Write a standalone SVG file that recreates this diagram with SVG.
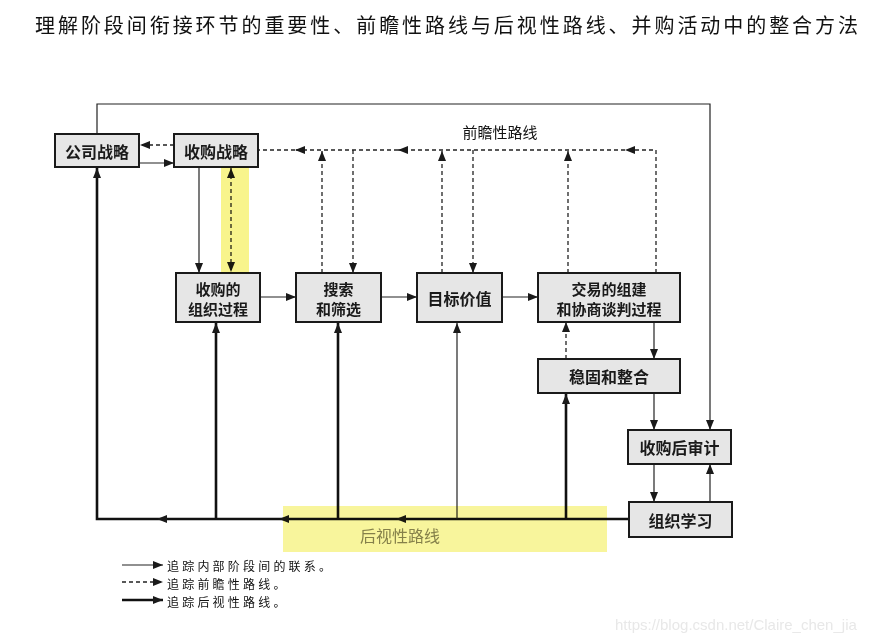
<svg xmlns="http://www.w3.org/2000/svg" width="882" height="641" viewBox="0 0 882 641">
<style>
text{font-family:"Noto Sans CJK SC","Liberation Sans",sans-serif;fill:#111}
.title{font-size:20px}
.node rect{fill:#e6e6e6;stroke:#1a1a1a;stroke-width:2}
.node text{font-size:16px;font-weight:bold;text-anchor:middle;dominant-baseline:central;fill:#1a1a1a}
.node text.two{font-size:15px}
.thin{fill:none;stroke:#222;stroke-width:1.2}
.dash{fill:none;stroke:#222;stroke-width:1.3;stroke-dasharray:4 3}
.thick{fill:none;stroke:#111;stroke-width:2.6}
.lbl{font-size:15px}
.leg{font-size:12px;letter-spacing:3.2px;dominant-baseline:central}
</style>
<defs>
<marker id="a" viewBox="0 0 10 8" refX="10" refY="4" markerWidth="10" markerHeight="8" markerUnits="userSpaceOnUse" orient="auto"><path d="M0,0 L10,4 L0,8 z" fill="#1a1a1a"/></marker>
<marker id="as" viewBox="0 0 10 8" refX="0" refY="4" markerWidth="10" markerHeight="8" markerUnits="userSpaceOnUse" orient="auto"><path d="M10,0 L0,4 L10,8 z" fill="#1a1a1a"/></marker>
</defs>
<rect width="882" height="641" fill="#fff"/>
<text class="title" x="35" y="33" textLength="823" lengthAdjust="spacing">理解阶段间衔接环节的重要性、前瞻性路线与后视性路线、并购活动中的整合方法</text>

<g id="connectors">
<path class="thin" d="M97,134 V104 H710 V430" marker-end="url(#a)"/>
<path class="dash" d="M174,145 H140" marker-end="url(#a)"/>
<path class="thin" d="M139,163 H174" marker-end="url(#a)"/>
<path class="thin" d="M199,167 V273" marker-end="url(#a)"/>
<path class="dash" d="M231,168 V272" marker-start="url(#as)" marker-end="url(#a)"/>
<path class="dash" d="M656,273 V150 H625" marker-end="url(#a)"/>
<path class="dash" d="M625,150 H398" marker-end="url(#a)"/>
<path class="dash" d="M398,150 H295" marker-end="url(#a)"/>
<path class="dash" d="M295,150 H258"/>
<path class="dash" d="M322,273 V151" marker-end="url(#a)"/>
<path class="dash" d="M353,150 V273" marker-end="url(#a)"/>
<path class="dash" d="M442,273 V151" marker-end="url(#a)"/>
<path class="dash" d="M473,150 V273" marker-end="url(#a)"/>
<path class="dash" d="M568,273 V151" marker-end="url(#a)"/>
<path class="dash" d="M566,359 V322" marker-end="url(#a)"/>
<path class="thin" d="M260,297 H296" marker-end="url(#a)"/>
<path class="thin" d="M381,297 H417" marker-end="url(#a)"/>
<path class="thin" d="M502,297 H538" marker-end="url(#a)"/>
<path class="thin" d="M654,322 V359" marker-end="url(#a)"/>
<path class="thin" d="M654,393 V430" marker-end="url(#a)"/>
<path class="thin" d="M654,464 V502" marker-end="url(#a)"/>
<path class="thin" d="M710,502 V464" marker-end="url(#a)"/>
<path class="thick" d="M629,519 H396" marker-end="url(#a)"/>
<path class="thick" d="M396,519 H279" marker-end="url(#a)"/>
<path class="thick" d="M279,519 H157" marker-end="url(#a)"/>
<path class="thick" d="M157,519 H97 V168" marker-end="url(#a)"/>
<path class="thick" d="M216,519 V323" marker-end="url(#a)"/>
<path class="thick" d="M338,519 V323" marker-end="url(#a)"/>
<path class="thin" d="M457,519 V323" marker-end="url(#a)"/>
<path class="thick" d="M566,519 V394" marker-end="url(#a)"/>
</g>

<text class="lbl" x="500" y="138" text-anchor="middle">前瞻性路线</text>

<g id="n1" class="node"><rect x="55" y="134" width="84" height="33"/><text x="97" y="150.5">公司战略</text></g>
<g id="n2" class="node"><rect x="174" y="134" width="84" height="33"/><text x="216" y="150.5">收购战略</text></g>
<g id="n3" class="node"><rect x="176" y="273" width="84" height="49"/><text class="two" x="218" y="288">收购的</text><text class="two" x="218" y="308">组织过程</text></g>
<g id="n4" class="node"><rect x="296" y="273" width="85" height="49"/><text class="two" x="338.5" y="288">搜索</text><text class="two" x="338.5" y="308">和筛选</text></g>
<g id="n5" class="node"><rect x="417" y="273" width="85" height="49"/><text x="459.5" y="297.5">目标价值</text></g>
<g id="n6" class="node"><rect x="538" y="273" width="142" height="49"/><text class="two" x="609" y="288">交易的组建</text><text class="two" x="609" y="308">和协商谈判过程</text></g>
<g id="n7" class="node"><rect x="538" y="359" width="142" height="34"/><text x="609" y="376">稳固和整合</text></g>
<g id="n8" class="node"><rect x="628" y="430" width="103" height="34"/><text x="679.5" y="447">收购后审计</text></g>
<g id="n9" class="node"><rect x="629" y="502" width="103" height="35"/><text x="680.5" y="519.5">组织学习</text></g>

<rect x="221" y="167" width="28" height="106" fill="#f8f48c" style="mix-blend-mode:multiply"/>
<rect x="283" y="506" width="324" height="46" fill="#f8f59c" style="mix-blend-mode:multiply"/>
<text x="400" y="542" text-anchor="middle" style="font-size:16px;fill:#85804a">后视性路线</text>

<g id="legend">
<path class="thin" d="M122,565 H163" marker-end="url(#a)"/>
<path class="dash" d="M122,582 H163" marker-end="url(#a)"/>
<path class="thick" d="M122,600 H163" marker-end="url(#a)"/>
<text class="leg" x="167" y="565">追踪内部阶段间的联系。</text>
<text class="leg" x="167" y="583">追踪前瞻性路线。</text>
<text class="leg" x="167" y="601">追踪后视性路线。</text>
</g>

<text x="615" y="630" style="font-family:'Liberation Sans',sans-serif;font-size:15px;fill:#e8e8e8">https://blog.csdn.net/Claire_chen_jia</text>
</svg>
